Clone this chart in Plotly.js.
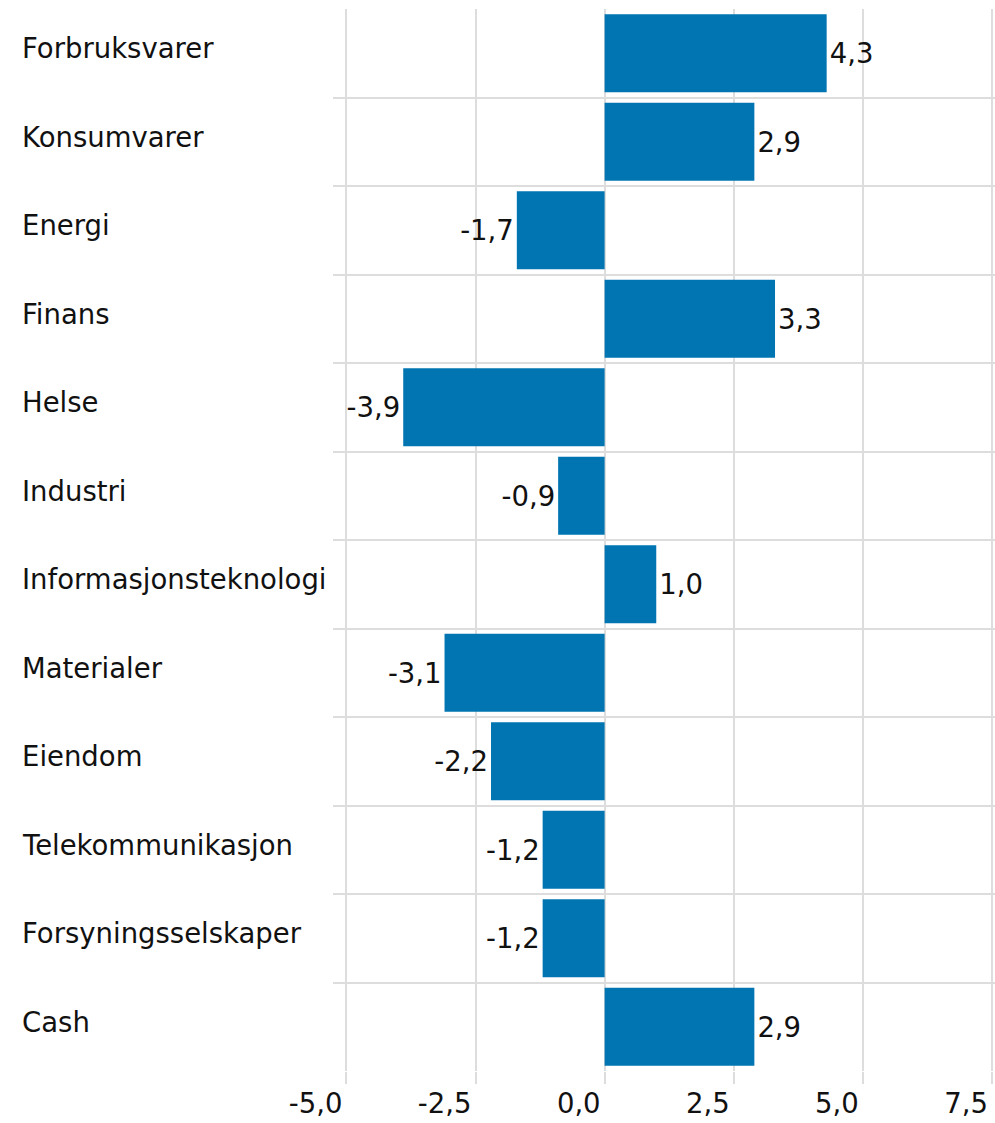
<!DOCTYPE html>
<html>
<head>
<meta charset="utf-8">
<script src="https://cdn.plot.ly/plotly-3.0.1.min.js"></script>
<style>
  body { margin: 0; background: #fff; }
  #plot { width: 995px; height: 1123px; }
</style>
</head>
<body>
<div id="plot"></div>
<script>
// Sector weights vs. benchmark
const sectors = ['Forbruksvarer', 'Konsumvarer', 'Energi', 'Finans', 'Helse', 'Industri',
  'Informasjonsteknologi', 'Materialer', 'Eiendom', 'Telekommunikasjon',
  'Forsyningsselskaper', 'Cash'];
const values = [4.3, 2.9, -1.7, 3.3, -3.9, -0.9, 1.0, -3.1, -2.2, -1.2, -1.2, 2.9];
const xTicks = [-5, -2.5, 0, 2.5, 5, 7.5];

// plain hyphen and decimal comma, like the original
const fmt = v => v.toFixed(1).replace('.', ',');

const W = 995, H = 1123;
const marginL = 333, marginR = 0, marginT = 9, marginB = 52;
const plotW = W - marginL - marginR;
const labelX = (20 - marginL) / plotW; // category labels left aligned at 20px

const FONT = 'DejaVu Sans, Verdana, sans-serif';
const FS = 27.5;

const trace = {
  type: 'bar',
  orientation: 'h',
  y: sectors,
  x: values,
  marker: {color: '#0075b2'},
  text: values.map(fmt),
  texttemplate: '%{text}',
  textposition: 'outside',
  textfont: {family: FONT, size: FS, color: '#111'},
  cliponaxis: false,
  hoverinfo: 'none'
};

// category names as left-aligned annotations
const annotations = sectors.map(s => ({
  xref: 'paper', yref: 'y',
  x: labelX, y: s,
  xanchor: 'left', yanchor: 'middle',
  yshift: 5,
  text: s,
  showarrow: false,
  font: {family: FONT, size: FS, color: '#111'}
}));

const layout = {
  width: W, height: H,
  margin: {l: marginL, r: marginR, t: marginT, b: marginB},
  paper_bgcolor: '#fff',
  plot_bgcolor: '#fff',
  bargap: 0.12,
  showlegend: false,
  font: {family: FONT, size: FS, color: '#111'},
  xaxis: {
    range: [-5.26, 7.56],
    tickmode: 'array',
    tickvals: xTicks,
    ticktext: xTicks.map(fmt),
    ticklabelposition: 'outside left',
    ticklabeloverflow: 'allow',
    ticklabelstandoff: 8,
    ticklabelshift: -3,
    showgrid: true,
    gridcolor: '#dddddd',
    gridwidth: 2,
    zeroline: false,
    ticks: 'outside',
    ticklen: 12,
    tickwidth: 2,
    tickcolor: '#dddddd',
    showline: false,
    tickfont: {family: FONT, size: FS, color: '#111'}
  },
  yaxis: {
    type: 'category',
    autorange: 'reversed',
    showticklabels: false,
    tickson: 'boundaries',
    showgrid: true,
    gridcolor: '#dddddd',
    gridwidth: 2,
    ticks: '',
    zeroline: false,
    showline: false
  },
  annotations: annotations
};

Plotly.newPlot('plot', [trace], layout, {staticPlot: true});
</script>
</body>
</html>
